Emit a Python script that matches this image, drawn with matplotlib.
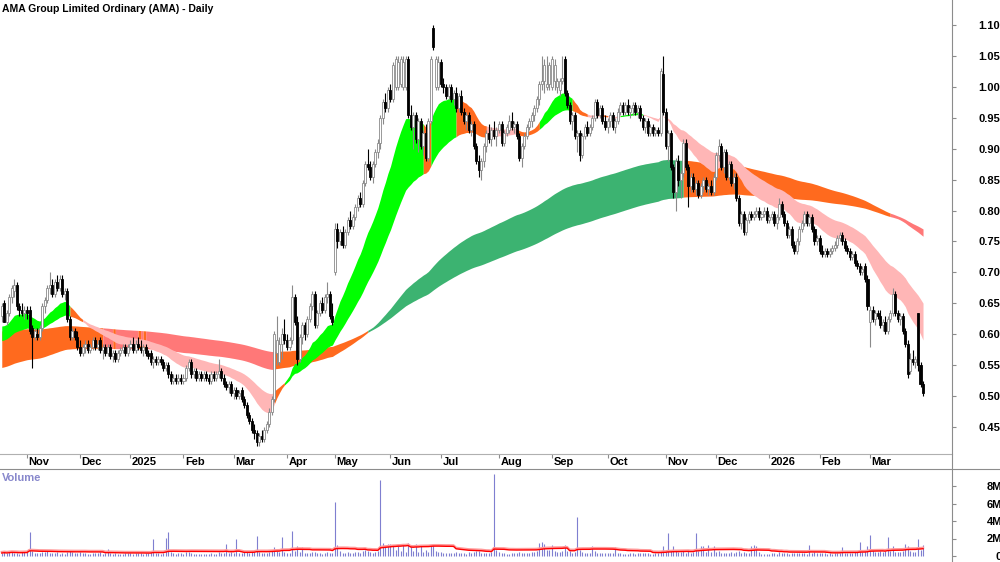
import numpy as np
import pandas as pd
import matplotlib
matplotlib.use("Agg")
import matplotlib.pyplot as plt
import matplotlib.transforms as mtransforms

plt.rcParams['font.family'] = ['Liberation Sans', 'DejaVu Sans']

# ASX trading days shown on the chart
holidays = ['2024-12-25', '2024-12-26', '2025-01-01', '2025-01-27', '2025-04-18',
            '2025-04-21', '2025-04-25', '2025-06-09', '2025-12-25', '2025-12-26',
            '2026-01-01', '2026-01-26']
dates = pd.bdate_range('2024-10-18', '2026-03-31')
dates = dates[~dates.isin(pd.to_datetime(holidays))]

# prices in cents, one value per trading day
opens = [
    63, 65, 62, 63.5, 66, 67, 68, 64.5, 64, 63.5,
    64, 64, 61, 59.5, 60, 59.5, 61, 64.5, 65.5, 67.5, 68, 66.5, 68.5, 67.5, 69, 66.5, 67, 62.5, 59.5, 60.5, 59.5,
    58, 57, 58, 58.5, 57.5, 58, 59, 58, 59, 57.5, 58, 57, 58, 56.5, 57, 56, 57, 57.5, 58, 57,
    58, 58.5, 57.5, 58.5, 58, 57.5, 58, 57, 57, 55.5, 56, 55.5, 56, 55.5, 54.5, 55, 53.5, 52.5, 53, 52.5, 53,
    52.5, 53, 54.5, 55.5, 53.5, 54, 53, 53.5, 53, 53.5, 53, 52.5, 53.5, 53, 53.5, 54, 53, 52, 51.5, 52,
    50.5, 51, 50, 51, 49.5, 48.5, 47, 46, 44.5, 44, 42.5, 43.5, 43, 44.5, 45.5, 47.5, 49.5, 57, 55.5, 58.5, 60,
    59, 58, 59, 66, 62, 56, 59.5, 61.5, 60, 62.5, 64.5, 66.5, 61.5, 63.5, 65, 64, 66, 66.5, 63,
    70, 77, 75, 76.5, 74.5, 76.5, 78.5, 77.5, 79, 80.5, 82, 81, 84.5, 87.5, 87, 85.5, 87.5, 89.5, 91, 95, 97.5, 96.5,
    99.5, 98, 100, 100, 100.5, 100, 100, 104.5, 95.5, 93.5, 95.5, 91.5, 94.5, 90.5, 92.5, 88.5, 94.5, 109.5, 100, 100,
    104, 100.5, 100, 98.5, 100, 98, 99, 96.5, 98.5, 96, 94.5, 95.5, 93, 94, 90.5, 88, 86.5, 88, 90.5, 92.5, 91.5, 93, 92,
    93, 94, 91, 92.5, 93, 94.5, 93.5, 94, 92, 88.5, 90.5, 92, 93.5, 94.5, 95.5, 96.5, 98, 100.5, 101, 100, 100.5,
    100, 101, 100, 99.5, 101, 104.5, 99, 97, 94.5, 95.5, 92, 92.5, 89, 92, 93.5, 92.5, 93.5, 95, 97.5, 95.5, 96.5, 94.5,
    93.5, 94.5, 95.5, 93.5, 94.5, 96, 97, 96, 97, 96, 96.5, 97, 96, 96.5, 95, 93.5, 94.5, 92.5, 93.5, 92.5, 93, 92.5, 102,
    96, 90.5, 92.5, 87, 83, 88, 85, 86, 91, 87, 84, 85.5, 83.5, 84.5, 82.5, 84, 85, 83.5, 84, 83,
    85.5, 89, 90.5, 87, 89.5, 85.5, 87.5, 84.5, 85.5, 82, 78, 79.5, 76.5, 78.5, 79.5, 79, 79.5, 80, 79, 79.5, 80,
    78.5, 79, 79.5, 78, 79, 81, 79.5, 78, 76, 77, 74.5, 73.5, 75, 77, 78, 79.5, 78, 79, 77, 75,
    75.5, 73.5, 73, 73.5, 73, 73.5, 74, 74.5, 75.5, 76, 75, 74, 73.5, 72.5, 73, 71.5, 71, 70, 71, 69,
    62, 64, 62.5, 63.5, 63, 61.5, 62, 60.5, 62.5, 63.5, 66.5, 63.5, 62.5, 63, 60.5, 58.5, 54, 56, 55.5, 63.5, 55, 52,
]
highs = [
    65, 65.5, 64, 66.5, 68, 69, 68.5, 65, 65, 64.5,
    64.5, 64.5, 61.5, 61, 61, 61.5, 65, 66, 68, 70, 69, 69, 69.5, 69.5, 69.5, 67.5, 67.5, 63, 61, 61, 60.5,
    59, 58.5, 59, 59, 58.5, 59.5, 59.5, 59, 59.5, 58.5, 58.5, 58.5, 58.5, 57.5, 57.5, 57.5, 58, 58.5, 58.5, 58.5,
    59, 59.5, 59, 59.5, 59, 58.5, 58.5, 57.5, 57.5, 56.5, 56.5, 56.5, 56.5, 56, 55.5, 55.5, 54, 53.5, 53.5, 53.5, 53.5,
    53.5, 55, 56, 56, 54.5, 54.5, 54, 54, 54, 54, 53.5, 54, 54, 54, 56, 54.5, 53.5, 52.5, 52.5, 52.5,
    51.5, 51.5, 51, 51.5, 50, 49, 47.5, 46.5, 45.5, 44.5, 44, 44.5, 45, 46, 48, 50, 60.5, 63, 59.5, 61, 62.5,
    60, 59.5, 68, 66.5, 63, 60, 62, 62, 63, 65, 67, 67, 64, 65.5, 66, 66.5, 68.5, 67, 65,
    78, 78, 77, 77.5, 77, 79, 80, 79.5, 81, 82.5, 83, 85, 88, 90, 88, 88, 90, 91.5, 95.5, 98, 99, 100,
    100.5, 104, 105, 105, 105, 105, 105, 105, 97, 96, 96, 95, 95, 93, 94, 95, 105, 110, 105, 105,
    104.5, 101.5, 100.5, 100.5, 100.5, 99.5, 100, 99, 99.5, 96.5, 96, 96, 94.5, 94.5, 91, 89, 88.5, 91, 93, 94, 93.5, 94.5, 93.5,
    94.5, 94.5, 93, 94, 95.5, 96, 94.5, 94.5, 92.5, 91, 92.5, 94, 95, 96, 97, 98.5, 101, 105, 104.5, 105, 104,
    105, 104.5, 101.5, 101.5, 105, 105, 99.5, 97.5, 96, 96, 93, 93, 92.5, 94, 94.5, 94, 95.5, 98, 98, 97, 97, 95.5,
    95, 96, 96, 95, 96.5, 97.5, 97.5, 97.5, 98, 97, 97.5, 97.5, 97, 97, 95.5, 95, 95, 94, 94, 93.5, 93.5, 103, 105,
    96.5, 93, 93, 87.5, 88.5, 89, 86.5, 91.5, 91.5, 87.5, 86, 86, 85, 85, 84.5, 85.5, 85.5, 84.5, 85, 86,
    89.5, 91.5, 91, 90, 90, 88, 88, 86, 86, 82.5, 80, 80, 79, 80, 80, 80, 80.5, 80.5, 80, 80.5, 80.5,
    79.5, 80, 80, 79.5, 82, 81.5, 80, 78.5, 77.5, 77.5, 75, 75.5, 77.5, 78.5, 80, 80, 79.5, 79.5, 77.5, 76,
    76, 74.5, 74, 74, 74, 74.5, 75, 76, 76.5, 76.5, 75.5, 74.5, 74, 73.5, 73.5, 72, 71.5, 71, 71.5, 69.5,
    64.5, 64.5, 64, 64, 64, 62.5, 63, 63, 64, 67.5, 67, 64, 63.5, 63.5, 61, 59, 57, 57.5, 56.5, 63.5, 55.5, 52.5,
]
lows = [
    62, 62, 61.5, 63, 65, 66, 64, 63, 63, 62.5,
    62.5, 60, 54.5, 59, 59, 59, 60.5, 63.5, 65, 66.5, 66, 66, 67, 67, 66, 65.5, 62, 59, 59, 59, 57.5,
    56.5, 56.5, 57, 57, 57, 57.5, 57.5, 57.5, 57, 56, 56.5, 56.5, 56, 55.5, 55.5, 55.5, 56.5, 57, 56.5, 56.5,
    57.5, 57, 57, 57.5, 57, 56.5, 56.5, 56, 55, 54.5, 55, 55, 55, 54, 54, 53, 52, 52, 52, 52, 52,
    52, 52.5, 54, 53, 53, 52.5, 52.5, 52.5, 52.5, 52.5, 52, 52, 52.5, 52.5, 53, 52.5, 51.5, 51, 50.5, 50,
    49.5, 49.5, 49.5, 49, 48, 46.5, 45.5, 44, 43, 42, 42, 42.5, 42.5, 44, 45, 47, 49, 55, 55, 56, 58.5,
    57.5, 57.5, 58.5, 61.5, 55, 55.5, 58.5, 59, 59.5, 62, 64, 61, 61, 63, 63.5, 63.5, 65, 62.5, 61.5,
    69.5, 74, 74.5, 74, 74, 76, 77, 77, 78.5, 80, 80.5, 80.5, 84, 86.5, 85, 84.5, 87, 88.5, 90, 94, 96, 96,
    97.5, 97.5, 99.5, 99.5, 100, 99.5, 99.5, 95, 93, 90, 91, 89.5, 90, 89, 88, 88, 94, 106, 99.5, 99.5,
    100, 99, 98, 98, 97.5, 97, 96, 96, 95.5, 94, 93, 92.5, 92, 90, 87.5, 85.5, 85, 87, 89.5, 91, 90.5, 91.5, 90.5,
    92.5, 90.5, 90.5, 92, 92.5, 93, 92.5, 91.5, 88, 87, 90, 91.5, 93, 93.5, 94.5, 96, 97, 99.5, 99, 99.5, 99.5,
    99.5, 99.5, 99, 98.5, 100.5, 98.5, 96.5, 94, 93, 91.5, 89.5, 88, 88.5, 91.5, 92, 92, 93, 94.5, 95, 95, 94, 93,
    92.5, 93.5, 93, 92.5, 94, 95.5, 95.5, 95.5, 95.5, 95, 95.5, 95.5, 95, 94.5, 93, 92.5, 92, 92, 92, 92, 92, 92, 95.5,
    90, 88, 86.5, 82, 80, 84, 82, 85.5, 86.5, 80.5, 83, 83, 82.5, 82, 82, 83, 83, 82.5, 82.5, 82.5,
    85, 88, 86.5, 86, 85, 85, 84, 83.5, 81.5, 77.5, 77, 76, 76, 78, 78.5, 78.5, 79, 78.5, 78.5, 79, 78,
    78, 78.5, 77.5, 77, 78.5, 79, 77.5, 75.5, 75.5, 74, 73, 73, 74.5, 76.5, 77.5, 77.5, 77.5, 76.5, 74.5, 74.5,
    73, 72.5, 72.5, 72.5, 72.5, 73, 73.5, 74, 75, 74.5, 73.5, 73, 72, 72, 71, 70.5, 69.5, 69.5, 68.5, 64,
    58, 62, 61.5, 62.5, 61, 60.5, 60, 60, 62, 63, 63, 62, 61.5, 60, 58, 53, 53.5, 55, 54.5, 54, 51.5, 50,
]
closes = [
    64.5, 62, 63.5, 66, 67.5, 68, 64.5, 64, 63.5, 64,
    63.5, 60.5, 59.5, 60.5, 59.5, 61, 64.5, 65.5, 67.5, 68, 66.5, 68.5, 67.5, 69, 66.5, 67, 62.5, 59.5, 60.5, 59.5, 58,
    57, 58, 58.5, 57.5, 58, 59, 58, 58.5, 57.5, 58, 57, 58, 56.5, 57, 56, 57, 57.5, 58, 57, 58,
    58.5, 57.5, 58.5, 58, 57.5, 58, 57, 56.5, 55.5, 56, 55.5, 56, 55.5, 54.5, 55, 53.5, 52.5, 53, 52.5, 53, 52.5,
    53, 54.5, 55.5, 53.5, 54, 53, 53.5, 53, 53.5, 53, 52.5, 53.5, 53, 53.5, 54, 53, 52, 51.5, 52, 50.5,
    51, 50, 50.5, 49.5, 48.5, 47, 46, 44.5, 44, 42.5, 43.5, 43, 44.5, 45.5, 47.5, 49.5, 60, 59, 58.5, 60, 59,
    58, 59, 66, 62, 56, 59.5, 61.5, 60, 62.5, 64.5, 66.5, 61.5, 63.5, 65, 64, 66, 66.5, 63, 62,
    77, 75, 76.5, 74.5, 76.5, 78.5, 77.5, 79, 80.5, 82, 81, 84.5, 87.5, 87, 85.5, 87.5, 89.5, 91, 95, 97.5, 96.5, 99.5,
    98, 103.5, 104.5, 104, 104.5, 104, 104.5, 95.5, 93.5, 95.5, 91.5, 94.5, 90.5, 92.5, 88.5, 94.5, 104.5, 106.5, 104.5, 104,
    100.5, 100, 98.5, 100, 98, 99, 96.5, 98.5, 96, 94.5, 95.5, 93, 94, 90.5, 88, 86.5, 88, 90.5, 92.5, 91.5, 93, 92, 93,
    94, 91, 92.5, 93.5, 94.5, 93.5, 94, 92, 88.5, 90.5, 92, 93.5, 94.5, 95.5, 96.5, 98, 100.5, 101, 103.5, 100.5, 103.5,
    104.5, 103.5, 101, 101, 101.5, 99, 97, 94.5, 95.5, 92, 92.5, 89, 92, 93.5, 92.5, 93.5, 95, 97.5, 95.5, 96.5, 94.5, 93.5,
    94.5, 95.5, 93.5, 94.5, 96, 97, 96, 97, 96, 96.5, 97, 96, 96.5, 95, 93.5, 94.5, 92.5, 93.5, 92.5, 93, 92.5, 102.5, 96,
    90.5, 92.5, 87, 83, 88, 85, 86, 91, 87, 84, 85.5, 83.5, 84.5, 82.5, 84, 85, 83.5, 84, 83, 85.5,
    89, 90.5, 87, 89.5, 85.5, 87.5, 84.5, 85.5, 82, 78, 79.5, 76.5, 78.5, 79.5, 79, 79.5, 80, 79, 79.5, 80, 78.5,
    79, 79.5, 78, 79, 81, 79.5, 78, 76, 77, 74.5, 73.5, 75, 77, 78, 79.5, 78, 79, 77, 75, 75.5,
    73.5, 73, 73.5, 73, 73.5, 74, 74.5, 75.5, 76, 75, 74, 73.5, 72.5, 73, 71.5, 71, 70, 70.5, 69, 64.5,
    64, 62.5, 63.5, 63, 61.5, 62, 60.5, 62.5, 63.5, 66.5, 63.5, 62.5, 63, 60.5, 58.5, 53.5, 56, 55.5, 56, 55, 52, 50.5,
]
# volume in thousands of shares
volume = [
    340, 410, 290, 460, 550, 370, 310, 250, 420, 470,
    440, 2700, 620, 350, 300, 400, 510, 450, 530, 360, 300, 340, 420, 280, 380, 250, 460, 570, 420, 350, 390,
    470, 310, 360, 270, 250, 400, 340, 300, 420, 250, 320, 850, 290, 230, 340, 200, 180, 270, 290, 320,
    360, 280, 400, 340, 310, 250, 290, 400, 450, 2000, 360, 310, 250, 400, 2100, 2700, 490, 350, 280, 310, 340,
    250, 420, 470, 310, 230, 270, 200, 180, 230, 260, 210, 300, 250, 190, 470, 350, 400, 1400, 380, 450,
    400, 1900, 350, 310, 470, 420, 380, 530, 490, 2300, 440, 350, 300, 400, 470, 570, 1000, 620, 420, 2200, 510,
    400, 350, 2900, 570, 1200, 490, 1000, 350, 310, 400, 460, 440, 290, 340, 250, 400, 470, 380, 320,
    6200, 1300, 550, 400, 360, 460, 310, 340, 420, 470, 350, 570, 720, 620, 420, 380, 470, 540, 8700, 1500, 1200, 1350,
    1400, 1250, 640, 1100, 560, 1300, 470, 1450, 1200, 570, 1350, 490, 1250, 420, 640, 470, 1150, 1300, 560, 420,
    470, 360, 310, 400, 340, 290, 450, 340, 310, 380, 270, 410, 290, 510, 560, 610, 400, 350, 310, 400, 470, 9400, 720,
    420, 350, 310, 270, 250, 360, 310, 330, 510, 400, 350, 310, 380, 420, 470, 560, 1500, 1600, 1400, 640, 720,
    1300, 560, 470, 420, 570, 1250, 610, 530, 400, 490, 4500, 680, 480, 360, 310, 400, 1200, 570, 350, 300, 340, 400,
    350, 310, 400, 1000, 340, 300, 250, 270, 230, 310, 330, 250, 290, 360, 400, 310, 340, 270, 250, 300, 340, 570, 1100,
    510, 2600, 620, 1100, 550, 470, 420, 570, 400, 610, 360, 470, 2600, 530, 1200, 1100, 510, 1250, 420, 1150,
    470, 560, 350, 400, 310, 340, 420, 380, 470, 620, 350, 440, 310, 340, 1100, 1300, 1200, 420, 250, 270, 230,
    270, 310, 360, 270, 450, 350, 310, 400, 250, 350, 400, 290, 340, 310, 360, 280, 1300, 380, 420, 330,
    400, 350, 310, 250, 290, 270, 330, 360, 400, 1000, 350, 310, 400, 340, 450, 480, 1600, 420, 570, 1150,
    2400, 640, 490, 420, 530, 460, 580, 2200, 620, 1100, 510, 420, 470, 570, 1400, 1200, 610, 490, 440, 2000, 680, 1300,
]

# moving average ribbons: periods and starting values (cents) at the first bar
short_periods = [20, 24, 28, 33, 39, 45]
short_seed = [61.0, 60.6, 60.2, 59.7, 59.2, 58.7]
long_periods = [150, 165, 180, 200, 225, 250]
long_seed = [54.5, 56.0, 58.0, 60.0, 60.5, 60.0]

# ribbon colour state, as runs starting at a bar index
short_run_start = [0, 27, 32, 108, 112, 167, 170, 180, 192, 204, 213, 226, 232, 237, 240, 245, 254]
short_run_state = ['up', 'mix', 'down', 'mix', 'up', 'mix', 'up', 'mix', 'down', 'mix', 'up', 'mix',
                   'down', 'mix', 'down', 'up', 'down']
long_run_start = [0, 40, 44, 45, 54, 55, 56, 57, 108, 145, 270, 352]
long_run_state = ['mix', 'down', 'mix', 'down', 'mix', 'down', 'mix', 'down', 'mix', 'up', 'mix', 'down']

short_colors = {'up': '#00ff00', 'mix': '#ff6a1e', 'down': '#ffb6b6'}
long_colors = {'up': '#3cb371', 'mix': '#ff6a1e', 'down': '#ff7878'}


def ema(values, period, seed):
    alpha = 2.0 / (period + 1)
    out = np.empty(len(values))
    prev = seed
    for i, v in enumerate(values):
        prev = prev + alpha * (v - prev)
        out[i] = prev
    return out


o = np.array(opens) / 100
h = np.array(highs) / 100
l = np.array(lows) / 100
c = np.array(closes) / 100
vol = np.array(volume) * 1000.0
n = len(c)
x = np.arange(n)
assert len(dates) == n and len(o) == n and len(h) == n and len(l) == n and len(vol) == n


def ribbon(periods, seeds):
    lines = np.array([ema(c, p, s / 100) for p, s in zip(periods, seeds)])
    return lines.min(axis=0), lines.max(axis=0)


fig = plt.figure(figsize=(10, 5.62), dpi=100)
ax = fig.add_axes([0, 108 / 562, 952 / 1000, 454 / 562])
axv = fig.add_axes([0, 0, 952 / 1000, 93 / 562])

x_left = -0.7
x_right = x_left + 952 / 2.524
ax.set_xlim(x_left, x_right)
ax.set_ylim(1.10 - 429 / 618.5, 1.10 + 25 / 618.5)

for periods, seeds, starts, states, cmap, z in [
        (long_periods, long_seed, long_run_start, long_run_state, long_colors, 1),
        (short_periods, short_seed, short_run_start, short_run_state, short_colors, 2)]:
    lo, hi = ribbon(periods, seeds)
    ends = starts[1:] + [n - 1]
    for s, e, st in zip(starts, ends, states):
        seg = slice(s, min(e + 1, n))
        ax.fill_between(x[seg], lo[seg], hi[seg], color=cmap[st], lw=0, zorder=z)

# price bars
up = c >= o
edge = np.where(up, '#8a8a8a', 'black')
ax.vlines(x, l, h, colors=edge, lw=0.8, zorder=3)
body = np.maximum(np.abs(c - o), 0.0015)
ax.bar(x, body, bottom=np.minimum(o, c), width=0.8, color=np.where(up, 'white', 'black'),
       edgecolor=edge, linewidth=0.6, zorder=4)

# axes styling
for a in (ax, axv):
    a.spines['left'].set_visible(False)
    a.spines['top'].set_visible(False)
    a.spines['right'].set_visible(False)
    a.spines['bottom'].set_color('#b0b0b0')
    a.set_facecolor('white')
axv.spines['bottom'].set_visible(False)

price_ticks = [0.45, 0.50, 0.55, 0.60, 0.65, 0.70, 0.75, 0.80, 0.85, 0.90, 0.95, 1.00, 1.05, 1.10]
ax.yaxis.tick_right()
ax.set_yticks(price_ticks)
ax.set_yticklabels([f'{t:.2f}' for t in price_ticks], fontsize=8, fontweight='bold')
ax.tick_params(axis='y', length=3, color='#8c8c8c', pad=16)

month_start = [i for i in range(1, n) if dates[i].month != dates[i - 1].month]
month_label = [str(dates[i].year) if dates[i].month == 1 else dates[i].strftime('%b') for i in month_start]
ax.set_xticks(month_start)
ax.set_xticklabels([])
ax.tick_params(axis='x', length=3, color='#8c8c8c', direction='out')
trans = mtransforms.blended_transform_factory(ax.transData, ax.transAxes)
for i, lab in zip(month_start, month_label):
    ax.text(i + 0.6, -8 / 454, lab, transform=trans, ha='left', va='center',
            fontsize=8, fontweight='bold', clip_on=False)

ax.text(2 / 952, 1 - 9 / 454, 'AMA Group Limited Ordinary (AMA) - Daily', transform=ax.transAxes,
        ha='left', va='center', fontsize=7.5, fontweight='bold')

# volume panel
axv.set_xlim(x_left, x_right)
axv.set_ylim(-6 / 8.75 * 1e6, 87 / 8.75 * 1e6)
axv.vlines(x, 0, vol, colors='#7f7fd0', lw=0.8, zorder=2)
vol_ma = pd.Series(vol).rolling(30, min_periods=1).mean()
axv.plot(x, vol_ma + 0.12e6, color='#ff9a9a', lw=1.6, zorder=3)
axv.plot(x, vol_ma, color='#ff0000', lw=1.0, zorder=4)
axv.set_xticks([])
vol_ticks = [0, 2e6, 4e6, 6e6, 8e6]
axv.yaxis.tick_right()
axv.set_yticks(vol_ticks)
axv.set_yticklabels(['0', '2M', '4M', '6M', '8M'], fontsize=8, fontweight='bold', ha='right')
axv.tick_params(axis='y', length=3, color='#8c8c8c', pad=33)
axv.text(2 / 952, 1 - 9 / 93, 'Volume', transform=axv.transAxes, ha='left', va='center',
         fontsize=8, fontweight='bold', color='#8888cc')

# panel separators
fig.add_artist(plt.Line2D([0, 1], [93 / 562, 93 / 562], color='#8c8c8c', lw=0.8))
fig.add_artist(plt.Line2D([952 / 1000, 952 / 1000], [0, 1], color='#8c8c8c', lw=0.8))

fig.savefig('out.png', dpi=100)
